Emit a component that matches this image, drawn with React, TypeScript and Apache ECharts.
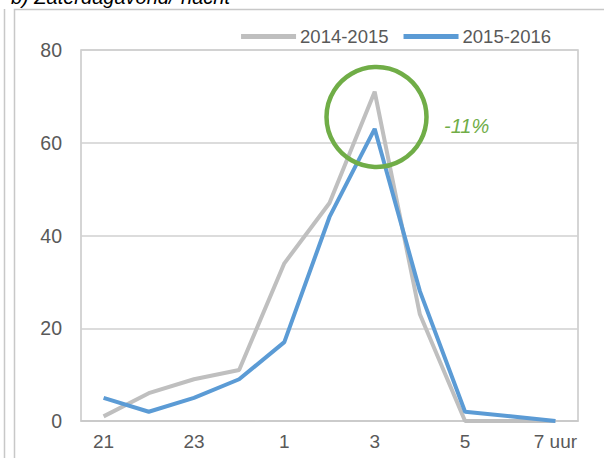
import React, { useEffect, useRef } from "react";
import * as echarts from "echarts";

const categories = ["21", "22", "23", "24", "1", "2", "3", "4", "5", "6", "7 uur"];
const shownLabels = ["21", "23", "1", "3", "5", "7 uur"];
const series2014 = [1, 6, 9, 11, 34, 47, 71, 23, 0, 0, 0];
const series2015 = [5, 2, 5, 9, 17, 44, 63, 28, 2, 1, 0];
const seriesNames = ["2014-2015", "2015-2016"];
const titleText = "b) Zaterdagavond/-nacht";
const annotation = "-11%";

export default function App() {
  const ref = useRef<HTMLDivElement>(null);
  useEffect(() => {
    if (!ref.current) return;
    const chart = echarts.init(ref.current, undefined, { renderer: "svg" });
    chart.setOption({
      animation: false,
      backgroundColor: "#ffffff",
      textStyle: { fontFamily: "Liberation Sans, Arial, sans-serif" },
      legend: {
        top: 22,
        right: 48,
        itemWidth: 55,
        itemHeight: 5,
        itemGap: 15,
        icon: "rect",
        textStyle: { fontSize: 18.5, color: "#595959", padding: [0, 0, 0, -1] },
        data: seriesNames,
      },
      grid: {
        left: 81,
        right: 26,
        top: 50,
        bottom: 37,
        show: true,
        borderColor: "#c8c8c8",
        borderWidth: 1.5,
      },
      xAxis: {
        type: "category",
        data: categories,
        boundaryGap: true,
        axisLine: { lineStyle: { color: "#c8c8c8", width: 1.5 } },
        axisTick: { show: false },
        axisLabel: {
          fontSize: 19,
          color: "#595959",
          margin: 11,
          interval: (i: number, v: string) => shownLabels.includes(v),
        },
      },
      yAxis: {
        type: "value",
        min: 0,
        max: 80,
        interval: 20,
        axisLine: { show: false },
        axisTick: { show: false },
        axisLabel: { fontSize: 19.5, color: "#595959", margin: 19 },
        splitLine: { lineStyle: { color: "#d0d0d0", width: 1.5 } },
      },
      series: [
        {
          name: seriesNames[0],
          type: "line",
          data: series2014,
          symbol: "none",
          lineStyle: { color: "#bfbfbf", width: 4 },
          itemStyle: { color: "#bfbfbf" },
        },
        {
          name: seriesNames[1],
          type: "line",
          data: series2015,
          symbol: "none",
          lineStyle: { color: "#5b9bd5", width: 4 },
          itemStyle: { color: "#5b9bd5" },
        },
      ],
      graphic: [
        {
          type: "line",
          shape: { x1: 4.5, y1: 9, x2: 4.5, y2: 460 },
          style: { stroke: "#c8c8c8", lineWidth: 1.5 },
        },
        {
          type: "polyline",
          shape: { points: [[14.5, 460], [14.5, 9.5], [610, 9.5]] },
          style: { stroke: "#c8c8c8", lineWidth: 1.5, fill: "none" },
        },
        {
          type: "text",
          x: 11,
          y: 7,
          style: {
            text: titleText,
            font: "italic 20px Liberation Sans, Arial, sans-serif",
            fill: "#000000",
            textVerticalAlign: "bottom",
          },
        },
        {
          type: "circle",
          shape: { cx: 376.5, cy: 117, r: 50 },
          style: { stroke: "#70ad47", lineWidth: 4.5, fill: "none" },
          z: 10,
        },
        {
          type: "text",
          x: 444,
          y: 126,
          style: {
            text: annotation,
            font: "italic 20px Liberation Sans, Arial, sans-serif",
            fill: "#70ad47",
            textVerticalAlign: "middle",
          },
        },
      ],
    });
    return () => chart.dispose();
  }, []);
  return (
    <div
      ref={ref}
      style={{ position: "fixed", left: 0, top: 0, width: 604, height: 458 }}
    />
  );
}
